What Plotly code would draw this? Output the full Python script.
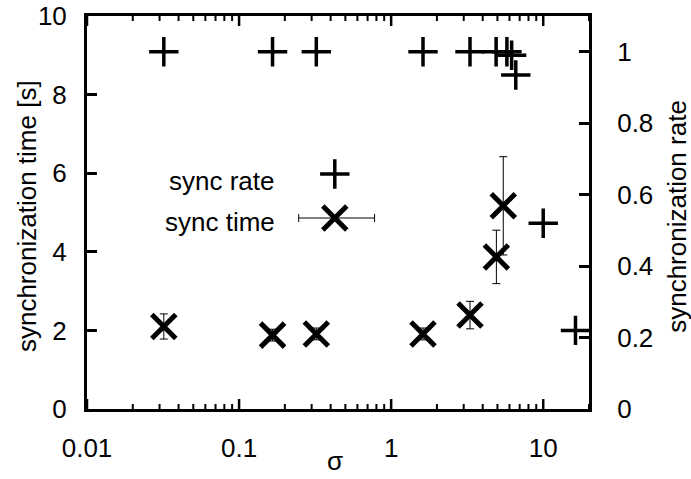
import math
import plotly.graph_objects as go

# synchronization rate vs sigma (right axis)
rate_sigma = [0.032, 0.166, 0.322, 1.62, 3.3, 4.9, 5.77, 6.2, 6.6, 10.0, 16.3]
rate_value = [1.0, 1.0, 1.0, 1.0, 1.0, 1.0, 1.0, 0.99, 0.935, 0.52, 0.22]

# synchronization time vs sigma with error bars (left axis)
time_sigma = [0.032, 0.166, 0.322, 1.62, 3.3, 4.92, 5.46]
time_value = [2.1, 1.88, 1.91, 1.91, 2.39, 3.87, 5.17]
time_err = [0.32, 0.15, 0.15, 0.15, 0.35, 0.68, 1.25]

x_ticks = [0.01, 0.1, 1, 10]
x_ticktext = ["0.01", "0.1", "1", "10"]
x_minor = [m * d for d in (0.01, 0.1, 1, 10) for m in range(2, 10) if m * d <= 20]
y_ticks = [0, 2, 4, 6, 8, 10]
y2_ticks = [0, 0.2, 0.4, 0.6, 0.8, 1]
y2_ticktext = ["0", "0.2", "0.4", "0.6", "0.8", "1"]

FONT = "Liberation Sans, Arial, sans-serif"
FS = 26
X_RANGE = [-2, math.log10(20)]
PLOT_H = 479 - 16 - 70  # plot-area height in px

rate_marker = dict(symbol="cross-thin", size=21, color="black",
                   line=dict(color="black", width=3.5))
time_marker = dict(symbol="x-thin", size=24, color="black",
                   line=dict(color="black", width=5))

fig = go.Figure()

fig.add_trace(go.Scatter(
    x=time_sigma, y=time_value, mode="markers", name="sync time",
    marker=time_marker,
    error_y=dict(type="data", array=time_err, visible=True,
                 color="black", thickness=1, width=4),
    showlegend=False,
))

fig.add_trace(go.Scatter(
    x=rate_sigma, y=rate_value, mode="markers", name="sync rate",
    marker=rate_marker, yaxis="y2", showlegend=False,
))

# key: label text on the left, sample marker on the right (sigma / seconds units)
key_sigma = 0.426
key_rate_y = 5.98
key_time_y = 4.86
key_bar_lo, key_bar_hi = 0.2466, 0.778
fig.add_trace(go.Scatter(
    x=[key_sigma], y=[key_rate_y], mode="markers", marker=rate_marker,
    showlegend=False, hoverinfo="skip",
))
fig.add_trace(go.Scatter(
    x=[key_sigma], y=[key_time_y], mode="markers", marker=time_marker,
    error_x=dict(type="data", array=[key_bar_hi - key_sigma],
                 arrayminus=[key_sigma - key_bar_lo], visible=True,
                 color="black", thickness=1, width=4),
    showlegend=False, hoverinfo="skip",
))

# inward tick marks on the bottom and top edges of the log sigma axis
tick_shapes = []
for vals, length, lw in ((x_ticks, 10, 2.5), (x_minor, 5, 2)):
    frac = length / PLOT_H
    for v in vals:
        for y0, y1 in ((0, frac), (1, 1 - frac)):
            tick_shapes.append(dict(
                type="line", xref="x", yref="y domain",
                x0=v, x1=v, y0=y0, y1=y1,
                line=dict(color="black", width=lw), layer="above",
            ))

axis_common = dict(
    showline=True, linecolor="black", linewidth=3,
    ticks="inside", ticklen=10, tickwidth=2.5, tickcolor="black",
    showgrid=False, zeroline=False,
    tickfont=dict(family=FONT, size=FS, color="black"),
)

key_label_x = math.log10(0.178)
title_font = dict(family=FONT, size=FS, color="black")
fig.update_layout(
    width=691, height=479,
    margin=dict(l=87, r=102, t=16, b=70, autoexpand=False),
    paper_bgcolor="white", plot_bgcolor="white",
    font=dict(family=FONT, size=FS, color="black"),
    xaxis=dict(
        type="log", range=X_RANGE,
        tickvals=x_ticks, ticktext=x_ticktext,
        showline=True, linecolor="black", linewidth=3, mirror=True,
        ticks="", showgrid=False, zeroline=False,
        ticklabelstandoff=14,
        tickfont=dict(family=FONT, size=FS, color="black"),
    ),
    yaxis=dict(
        range=[0, 10], tickvals=y_ticks,
        ticklabelstandoff=12,
        **axis_common,
    ),
    yaxis2=dict(
        overlaying="y", side="right", range=[0, 1.1],
        tickvals=y2_ticks, ticktext=y2_ticktext,
        ticklabelstandoff=20,
        **axis_common,
    ),
    shapes=tick_shapes,
    annotations=[
        dict(text="sync rate", xref="x", yref="y", x=key_label_x, y=5.8,
             xanchor="right", yanchor="middle", showarrow=False,
             font=title_font),
        dict(text="sync time", xref="x", yref="y", x=key_label_x, y=4.75,
             xanchor="right", yanchor="middle", showarrow=False,
             font=title_font),
        dict(text="synchronization time [s]", xref="paper", yref="paper",
             x=-0.1195, y=0.491, textangle=-90, showarrow=False,
             xanchor="center", yanchor="middle", font=title_font),
        dict(text="synchronization rate", xref="paper", yref="paper",
             x=1.1753, y=0.489, textangle=-90, showarrow=False,
             xanchor="center", yanchor="middle", font=title_font),
        dict(text="σ", xref="paper", yref="paper",
             x=0.494, y=-0.1756, showarrow=False,
             xanchor="center", yanchor="bottom", font=title_font),
    ],
)

fig.write_html("out.html")
